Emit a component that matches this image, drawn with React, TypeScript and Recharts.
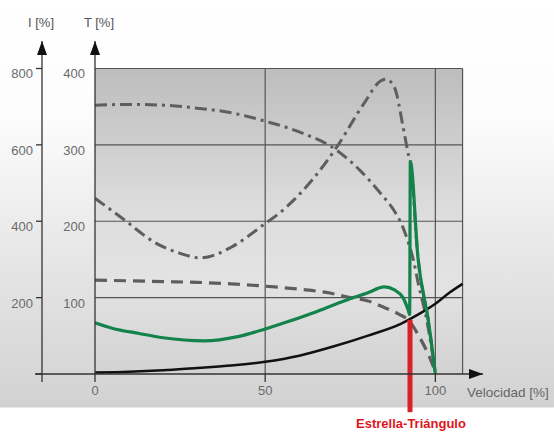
import { LineChart, Line, XAxis, YAxis, ReferenceArea, ReferenceLine } from 'recharts'

type Pt = { x: number; y: number }

// velocidad [%] -> par/corriente en escala T [%]
const speedTicks = [0, 50, 100]
const torqueTicks = [100, 200, 300, 400]
const currentTicks = [0, 200, 400, 600, 800]
const gridTorque = [100, 200, 300, 400]
const gridSpeed = [50, 100, 108]

// corriente en triángulo (punto-raya superior)
const currentDelta: Pt[] = [
  { x: 0, y: 352 }, { x: 10, y: 353 }, { x: 20, y: 352 }, { x: 28, y: 349 }, { x: 40, y: 342 },
  { x: 50, y: 331 }, { x: 60, y: 317 }, { x: 71, y: 293 }, { x: 78, y: 266 }, { x: 84, y: 236 },
  { x: 88, y: 213 }, { x: 90, y: 197 }, { x: 92, y: 173 }, { x: 93.5, y: 150 }, { x: 95, y: 118 },
  { x: 97.5, y: 70 }, { x: 100, y: 3 },
]

// par en triángulo (punto-raya con máximo)
const torqueDelta: Pt[] = [
  { x: 0, y: 230 }, { x: 8, y: 204 }, { x: 18, y: 171 }, { x: 25, y: 158 }, { x: 31, y: 152 },
  { x: 40, y: 166 }, { x: 50, y: 197 }, { x: 54, y: 210 }, { x: 60, y: 235 }, { x: 64, y: 255 },
  { x: 71, y: 297 }, { x: 79, y: 354 }, { x: 84, y: 384 }, { x: 85.5, y: 386 }, { x: 88, y: 375 },
  { x: 90.5, y: 324 }, { x: 91.3, y: 305 }, { x: 92.2, y: 285 }, { x: 92.65, y: 278 },
  { x: 94.9, y: 152 }, { x: 98, y: 68 }, { x: 100, y: 0 },
]

// corriente en estrella (discontinua)
const currentStar: Pt[] = [
  { x: 0, y: 123 }, { x: 10, y: 122 }, { x: 20, y: 121 }, { x: 30, y: 120 }, { x: 40, y: 118 },
  { x: 50, y: 115 }, { x: 60, y: 111 }, { x: 69, y: 106 }, { x: 75, y: 100 }, { x: 80, y: 96 },
  { x: 85, y: 87 }, { x: 89, y: 79 }, { x: 92.6, y: 68 }, { x: 95, y: 51 }, { x: 98, y: 25 },
  { x: 100, y: 3 },
]

// par resultante estrella-triángulo (verde)
const torqueStarDelta: Pt[] = [
  { x: 0, y: 67 }, { x: 5, y: 60 }, { x: 13, y: 53 }, { x: 20, y: 47.5 }, { x: 32, y: 43.5 },
  { x: 42, y: 49 }, { x: 50, y: 59 }, { x: 57, y: 69 }, { x: 64, y: 80 },
  { x: 74, y: 97 }, { x: 80, y: 106 }, { x: 85, y: 114 }, { x: 88, y: 110 }, { x: 90.5, y: 100 },
  { x: 92, y: 84 }, { x: 92.45, y: 78 }, { x: 92.65, y: 278 }, { x: 94.9, y: 152 },
  { x: 98, y: 68 }, { x: 100, y: 0 },
]

// par resistente de la carga (negro)
const loadTorque: Pt[] = [
  { x: 0, y: 2 }, { x: 10, y: 3 }, { x: 20, y: 5 }, { x: 30, y: 8 }, { x: 40, y: 11 },
  { x: 50, y: 16 }, { x: 60, y: 24 }, { x: 70, y: 36 }, { x: 80, y: 50 }, { x: 90, y: 66 },
  { x: 95, y: 78 }, { x: 100, y: 92 }, { x: 104, y: 106 }, { x: 108, y: 118 },
]

const switchPoint = { speed: 92.55, torque: 71, below: -50 }

const axisColor = '#333'
const tickColor = '#6a6a6a'
const gridColor = '#555'
const font = '"Liberation Sans", Arial, sans-serif'
const T_AXIS_WIDTH = 53
const I_AXIS_WIDTH = 42
// ids ordenados: el primero queda junto al área del gráfico
const T_ID = 'a_torque'
const I_ID = 'b_current'

function TorqueTick({ x, y, payload }: any) {
  return (
    <text x={x} y={y + 10} textAnchor="end" fill={tickColor} fontSize={13} fontFamily={font}>
      {payload.value}
    </text>
  )
}

function CurrentTick({ x, y, payload }: any) {
  const axisX = x + 9
  if (payload.value === 0) {
    // prolongación del eje de velocidad hasta el eje I
    return (
      <g stroke={axisColor} strokeWidth={1.3}>
        <line x1={axisX - 7} y1={y} x2={axisX + T_AXIS_WIDTH} y2={y} />
        <line x1={axisX} y1={y} x2={axisX} y2={y + 8} />
      </g>
    )
  }
  return (
    <text x={x} y={y + 10} textAnchor="end" fill={tickColor} fontSize={13} fontFamily={font}>
      {payload.value}
    </text>
  )
}

function SpeedTick({ x, y, payload }: any) {
  return (
    <text x={x} y={y + 11} textAnchor="middle" fill={tickColor} fontSize={13} fontFamily={font}>
      {payload.value}
    </text>
  )
}

function SwitchLabel({ viewBox }: any) {
  const { x, y, height } = viewBox
  return (
    <text x={x + 1} y={y + height + 16} textAnchor="middle" fill="#e0141e" fontSize={13} fontWeight="bold" fontFamily={font}>
      Estrella-Triángulo
    </text>
  )
}

export default function App() {
  return (
    <div
      style={{
        position: 'absolute',
        top: 0,
        left: 0,
        width: 554,
        height: 433,
        background:
          'linear-gradient(180deg, #ffffff 0px, #fcfcfc 120px, #e6e6e6 260px, #d3d3d3 400px, #d1d1d1 407px, #ffffff 408px, #ffffff 433px)',
      }}
    >
      <svg width={0} height={0} style={{ position: 'absolute' }}>
        <defs>
          <marker id="arrowHead" viewBox="0 0 14 10" refX={14} refY={5} markerWidth={14} markerHeight={10} markerUnits="userSpaceOnUse" orient="auto-start-reverse">
            <path d="M0,0 L14,5 L0,10 z" fill="#111" />
          </marker>
          <linearGradient id="plotBg" x1="0" y1="0" x2="0" y2="1">
            <stop offset="0" stopColor="#bdbdbd" />
            <stop offset="0.45" stopColor="#dcdcdc" />
            <stop offset="0.7" stopColor="#e3e3e3" />
            <stop offset="1" stopColor="#d2d2d2" />
          </linearGradient>
        </defs>
      </svg>
      <LineChart width={554} height={433} margin={{ top: 41, right: 71, bottom: 29, left: 0 }}>
        <XAxis
          dataKey="x"
          type="number"
          domain={[0, 114]}
          ticks={speedTicks}
          interval={0}
          allowDataOverflow
          height={30}
          tickSize={8}
          tickMargin={2}
          tick={SpeedTick}
          tickLine={{ stroke: axisColor, strokeWidth: 1.3 }}
          axisLine={{ stroke: axisColor, strokeWidth: 1.3, markerEnd: 'url(#arrowHead)' }}
          label={(p: any) => (
            <text x={p.viewBox.x + p.viewBox.width - 16} y={p.viewBox.y + 22.5} fill="#666" fontSize={13.5} fontFamily={font}>
              Velocidad [%]
            </text>
          )}
        />
        <YAxis
          yAxisId={T_ID}
          type="number"
          domain={[0, 436]}
          ticks={torqueTicks}
          interval={0}
          allowDataOverflow
          width={T_AXIS_WIDTH}
          tickSize={6}
          tickMargin={4}
          tick={TorqueTick}
          tickLine={false}
          axisLine={{ stroke: axisColor, strokeWidth: 1.3, markerStart: 'url(#arrowHead)' }}
          label={(p: any) => (
            <text x={p.viewBox.x + p.viewBox.width + 4} y={p.viewBox.y - 14} textAnchor="middle" fill="#555" fontSize={13} fontFamily={font}>
              T [%]
            </text>
          )}
        />
        <YAxis
          yAxisId={I_ID}
          type="number"
          domain={[0, 872]}
          ticks={currentTicks}
          interval={0}
          allowDataOverflow
          width={I_AXIS_WIDTH}
          tickSize={6}
          tickMargin={3}
          tick={CurrentTick}
          tickLine={{ stroke: axisColor, strokeWidth: 1.3 }}
          axisLine={{ stroke: axisColor, strokeWidth: 1.3, markerStart: 'url(#arrowHead)' }}
          label={(p: any) => (
            <text x={p.viewBox.x + p.viewBox.width - 1} y={p.viewBox.y - 14} textAnchor="middle" fill="#555" fontSize={13} fontFamily={font}>
              I [%]
            </text>
          )}
        />

        <ReferenceArea yAxisId={T_ID} x1={0} x2={108} y1={0} y2={400} fill="url(#plotBg)" fillOpacity={1} stroke="none" />
        {gridTorque.map((t) => (
          <ReferenceLine key={'h' + t} yAxisId={T_ID} segment={[{ x: 0, y: t }, { x: 108, y: t }]} stroke={gridColor} strokeWidth={1.2} />
        ))}
        {gridSpeed.map((s) => (
          <ReferenceLine key={'v' + s} yAxisId={T_ID} segment={[{ x: s, y: 0 }, { x: s, y: 400 }]} stroke={gridColor} strokeWidth={1.2} />
        ))}

        <Line data={currentDelta} dataKey="y" yAxisId={T_ID} type="monotone" stroke="#5e5e5e" strokeWidth={3} strokeDasharray="12 5 3 5" dot={false} activeDot={false} isAnimationActive={false} />
        <Line data={torqueDelta} dataKey="y" yAxisId={T_ID} type="monotone" stroke="#5e5e5e" strokeWidth={3} strokeDasharray="12 5 3 5" dot={false} activeDot={false} isAnimationActive={false} />
        <Line data={currentStar} dataKey="y" yAxisId={T_ID} type="monotone" stroke="#5e5e5e" strokeWidth={3.2} strokeDasharray="12 7" dot={false} activeDot={false} isAnimationActive={false} />
        <Line data={loadTorque} dataKey="y" yAxisId={T_ID} type="monotone" stroke="#111" strokeWidth={2.5} dot={false} activeDot={false} isAnimationActive={false} />
        <Line data={torqueStarDelta} dataKey="y" yAxisId={T_ID} type="monotone" stroke="#13834b" strokeWidth={3.2} dot={false} activeDot={false} isAnimationActive={false} />

        <ReferenceLine
          yAxisId={T_ID}
          segment={[
            { x: switchPoint.speed, y: switchPoint.torque },
            { x: switchPoint.speed, y: switchPoint.below },
          ]}
          stroke="#d81f2a"
          strokeWidth={5}
          ifOverflow="visible"
          label={SwitchLabel}
        />
      </LineChart>
    </div>
  )
}
